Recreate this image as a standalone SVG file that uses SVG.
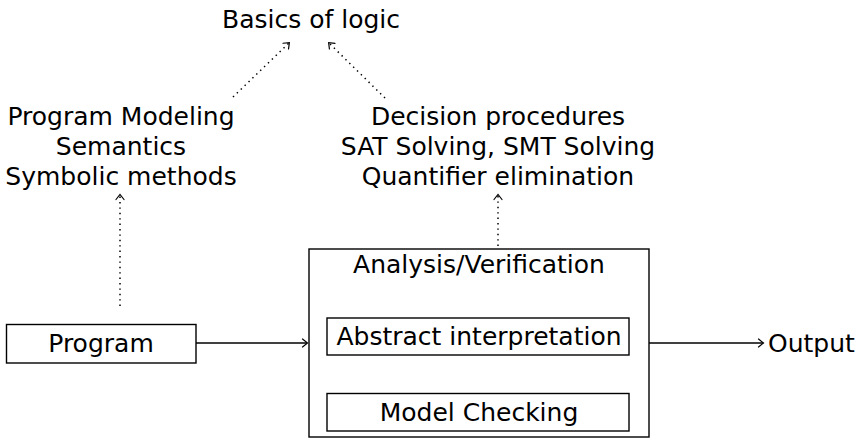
<svg xmlns="http://www.w3.org/2000/svg" width="860" height="438" viewBox="0 0 860 438">
  <defs>
    <style>
      text { font-family: "DejaVu Sans", "Liberation Sans", sans-serif; font-size: 25px; fill: #000; text-anchor: middle; }
      .box { fill: none; stroke: #000; stroke-width: 1.4; }
      .edge { fill: none; stroke: #000; stroke-width: 1.4; }
      .dots { fill: none; stroke: #000; stroke-width: 1.5; stroke-dasharray: 1.4 4; }
    </style>
    <marker id="to" viewBox="-6 -5 8 10" markerWidth="8" markerHeight="10" refX="0" refY="0" orient="auto" markerUnits="userSpaceOnUse">
      <path d="M -4.5,-4 Q -1,-1.2 0.5,0 Q -1,1.2 -4.5,4" fill="none" stroke="#000" stroke-width="1.2" stroke-linecap="round"/>
    </marker>
  </defs>

  <!-- top: common foundation -->
  <g id="basics">
    <text x="311" y="28">Basics of logic</text>
  </g>

  <!-- left column: modelling topics -->
  <g id="modeling">
    <text x="121" y="125">Program Modeling</text>
    <text x="121" y="155">Semantics</text>
    <text x="121" y="185">Symbolic methods</text>
  </g>

  <!-- right column: solving topics -->
  <g id="decision">
    <text x="498" y="125">Decision procedures</text>
    <text x="498" y="155">SAT Solving, SMT Solving</text>
    <text x="498" y="185">Quantifier elimination</text>
  </g>

  <g id="program">
    <rect class="box" x="6.5" y="324.5" width="189.5" height="38.5"/>
    <text x="101" y="352">Program</text>
  </g>

  <g id="analysis">
    <rect class="box" x="309" y="249" width="340" height="188"/>
    <text x="479" y="273">Analysis/Verification</text>
  </g>

  <g id="abstract">
    <rect class="box" x="327" y="318" width="302" height="37"/>
    <text x="479" y="345">Abstract interpretation</text>
  </g>

  <g id="modelchecking">
    <rect class="box" x="327" y="393.5" width="302" height="37.5"/>
    <text x="479" y="421">Model Checking</text>
  </g>

  <g id="output">
    <text x="768" y="352" style="text-anchor:start">Output</text>
  </g>

  <g id="connectors">
    <line class="dots" x1="233" y1="97" x2="289" y2="43" marker-end="url(#to)"/>
    <line class="dots" x1="385" y1="98" x2="329" y2="43" marker-end="url(#to)"/>
    <line class="dots" x1="120" y1="306" x2="120" y2="195" marker-end="url(#to)"/>
    <line class="dots" x1="498" y1="246" x2="498" y2="195" marker-end="url(#to)"/>
    <line class="edge" x1="196" y1="343" x2="307" y2="343" marker-end="url(#to)"/>
    <line class="edge" x1="649" y1="343" x2="763" y2="343" marker-end="url(#to)"/>
  </g>
</svg>
